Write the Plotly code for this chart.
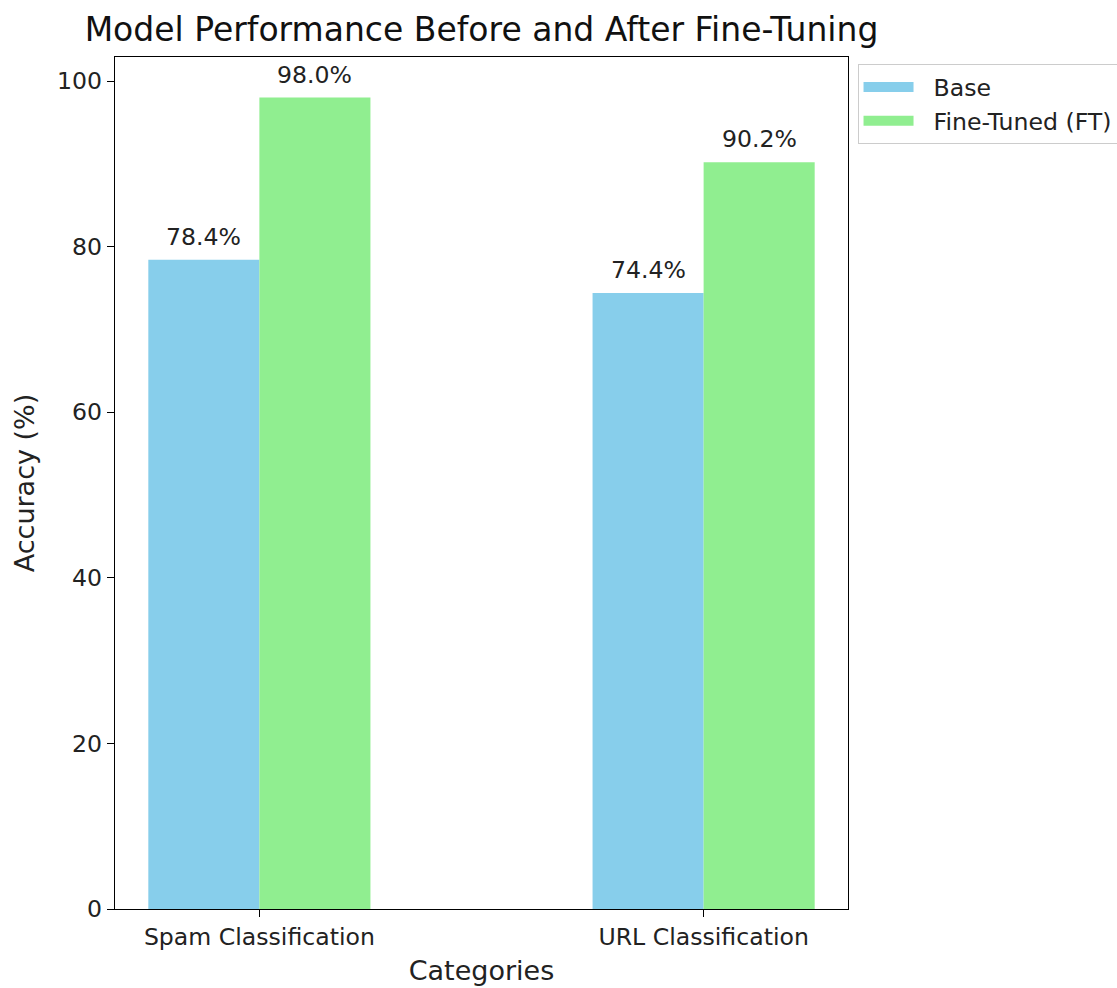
import plotly.graph_objects as go

categories = ["Spam Classification", "URL Classification"]
base_acc = [78.4, 74.4]
ft_acc = [98.0, 90.2]
series_names = ["Base", "Fine-Tuned (FT)"]
series_colors = ["#87CEEB", "#90EE90"]
y_ticks = [0, 20, 40, 60, 80, 100]

FONT = "DejaVu Sans"
TXT = "#222222"
FS = 23.6
bar_w = 0.25
x_pos = list(range(len(categories)))

fig = go.Figure()
for values, offset, name, color in [
    (base_acc, -bar_w / 2, series_names[0], series_colors[0]),
    (ft_acc, bar_w / 2, series_names[1], series_colors[1]),
]:
    xs = [p + offset for p in x_pos]
    fig.add_trace(go.Bar(
        x=xs, y=values, width=bar_w, name=name, showlegend=False,
        marker=dict(color=color, line=dict(width=0)),
    ))
    # wide patch-style legend entry for the series
    fig.add_trace(go.Scatter(
        x=[None], y=[None], mode="lines", name="\u00a0\u00a0" + name,
        line=dict(color=color, width=17), showlegend=True,
    ))
    # value labels just above each bar
    for xv, yv in zip(xs, values):
        fig.add_annotation(
            x=xv, y=yv, text=f"{yv:.1f}%", showarrow=False,
            xanchor="center", yanchor="bottom", yshift=7,
            font=dict(family=FONT, size=FS, color=TXT),
        )

fig.update_layout(
    width=1117, height=988,
    margin=dict(l=115, r=269, t=57, b=79, autoexpand=False),
    paper_bgcolor="white", plot_bgcolor="white",
    font=dict(family=FONT, size=FS, color=TXT),
    title=dict(text="Model Performance Before and After Fine-Tuning",
               font=dict(family=FONT, size=33, color="#111111"),
               xref="paper", x=0.5, xanchor="center", y=0.970, yanchor="middle"),
    barmode="overlay",
    legend=dict(x=1.013, xanchor="left", y=0.9915, yanchor="top",
                bordercolor="#cccccc", borderwidth=1, bgcolor="white",
                font=dict(family=FONT, size=FS, color=TXT),
                itemwidth=50, tracegroupgap=2),
)
fig.update_xaxes(
    range=[-0.325, 1.325], tickmode="array", tickvals=x_pos, ticktext=categories,
    showline=True, linecolor="black", linewidth=1.3, mirror=True,
    ticks="outside", ticklen=7, tickcolor="black", tickwidth=1.3,
    showgrid=False, zeroline=False, automargin=False,
    title=dict(text="Categories", font=dict(family=FONT, size=27, color=TXT), standoff=10),
)
fig.update_yaxes(
    range=[0, 102.9], tickmode="array", tickvals=y_ticks,
    showline=True, linecolor="black", linewidth=1.3, mirror=True,
    ticks="outside", ticklen=7, tickcolor="black", tickwidth=1.3,
    showgrid=False, zeroline=False, automargin=False,
    title=dict(text="Accuracy (%)", font=dict(family=FONT, size=27, color=TXT), standoff=14),
)

fig.write_html("out.html")
